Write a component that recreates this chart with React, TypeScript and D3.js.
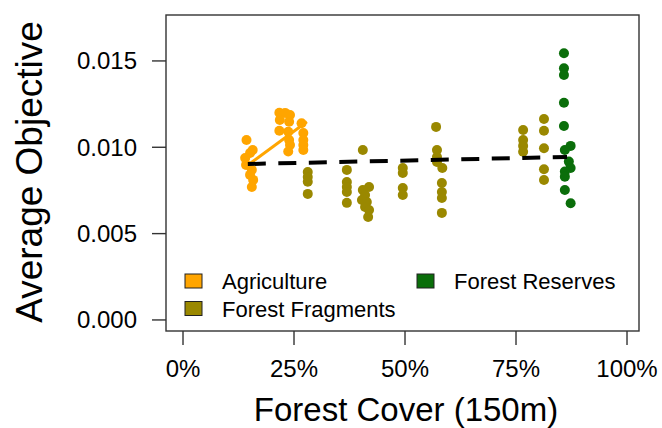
import React from 'react';
import * as d3 from 'd3';

// forest cover (fraction) and average objective
const agriX = [0.143, 0.157, 0.151, 0.140, 0.142, 0.155, 0.151, 0.158, 0.155,
  0.217, 0.230, 0.241, 0.218, 0.239, 0.217, 0.237, 0.239, 0.241, 0.237,
  0.267, 0.271, 0.271, 0.271, 0.271];
const agriY = [0.01042, 0.00984, 0.00967, 0.00938, 0.00898, 0.00869, 0.0084, 0.00811, 0.0077,
  0.0120, 0.01199, 0.01187, 0.01158, 0.01148, 0.01096, 0.0109, 0.01042, 0.01013, 0.00975,
  0.01139, 0.01083, 0.01042, 0.01013, 0.00984];

const fragX = [0.281, 0.281, 0.281, 0.281,
  0.369, 0.369, 0.369, 0.369, 0.369,
  0.405, 0.419, 0.405, 0.410, 0.403, 0.414, 0.410, 0.419, 0.417,
  0.495, 0.495, 0.495, 0.495,
  0.570, 0.572, 0.572, 0.572, 0.584, 0.583, 0.583, 0.583, 0.583,
  0.766, 0.766, 0.766, 0.766,
  0.813, 0.813, 0.813, 0.813, 0.813];
const fragY = [0.00857, 0.00828, 0.0080, 0.0073,
  0.00869, 0.00799, 0.0077, 0.00741, 0.00678,
  0.00984, 0.0077, 0.00753, 0.00724, 0.00695, 0.00683, 0.00654, 0.00637, 0.00596,
  0.0088, 0.00851, 0.00764, 0.00724,
  0.01118, 0.00984, 0.00944, 0.00915, 0.0088, 0.00793, 0.00741, 0.00706, 0.0062,
  0.011, 0.01042, 0.01008, 0.00974,
  0.01164, 0.01096, 0.00994, 0.00873, 0.0081];

const resX = [0.858, 0.858, 0.858, 0.858, 0.858, 0.873, 0.860, 0.869, 0.873, 0.860, 0.860, 0.860, 0.873];
const resY = [0.01544, 0.01457, 0.01419, 0.01258, 0.01123, 0.01008, 0.00984, 0.00917, 0.0088, 0.00859, 0.0083, 0.00753, 0.00676];

// fitted lines: overall (dashed) and agriculture only
const allFitX = [0.146, 0.865];
const allFitY = [0.00903, 0.00944];
const agriFitX = [0.137, 0.279];
const agriFitY = [0.0088, 0.01148];

const yTicks = [0, 0.005, 0.01, 0.015];
const xTicks = [0, 0.25, 0.5, 0.75, 1];

const groups = ['Agriculture', 'Forest Fragments', 'Forest Reserves'];
const colors = ['#FFA500', '#9A8800', '#0A6E0A'];

const font = '"Liberation Sans", Arial, sans-serif';
const W = 662;
const H = 428;
const box = { left: 166, right: 639, top: 15, bottom: 331 };

const App: React.FC = () => {
  const x = d3.scaleLinear().domain([-0.0383, 1.027]).range([box.left, box.right]);
  const y = d3.scaleLinear().domain([-0.00064, 0.01766]).range([box.bottom, box.top]);

  const line = d3.line<[number, number]>().x(d => x(d[0])).y(d => y(d[1]));
  const series = [
    { xs: agriX, ys: agriY, c: colors[0] },
    { xs: fragX, ys: fragY, c: colors[1] },
    { xs: resX, ys: resY, c: colors[2] },
  ];

  const legendPos = [
    { lx: 185, ly: 281 },
    { lx: 185, ly: 308.5 },
    { lx: 417, ly: 281 },
  ];

  return (
    <svg width={W} height={H} style={{ position: 'absolute', left: 0, top: 0, background: '#fff' }} fontFamily={font}>
      {series.map((s, i) => (
        <g key={i}>
          {s.xs.map((v, j) => (
            <circle key={j} cx={x(v)} cy={y(s.ys[j])} r={5} fill={s.c} />
          ))}
        </g>
      ))}
      <path d={line(agriFitX.map((v, i) => [v, agriFitY[i]]) as [number, number][]) || ''}
        stroke={colors[0]} strokeWidth={3} fill="none" />
      <path d={line(allFitX.map((v, i) => [v, allFitY[i]]) as [number, number][]) || ''}
        stroke="#000" strokeWidth={4} strokeDasharray="18 12.5" fill="none" />

      <rect x={box.left} y={box.top} width={box.right - box.left} height={box.bottom - box.top}
        fill="none" stroke="#333" strokeWidth={1.4} />

      {yTicks.map(t => (
        <g key={t}>
          <line x1={box.left - 14} x2={box.left} y1={y(t)} y2={y(t)} stroke="#333" strokeWidth={1.4} />
          <text x={137} y={y(t) + 8.5} textAnchor="end" fontSize={24}>{d3.format('.3f')(t)}</text>
        </g>
      ))}
      {xTicks.map(t => (
        <g key={t}>
          <line x1={x(t)} x2={x(t)} y1={box.bottom} y2={box.bottom + 14} stroke="#333" strokeWidth={1.4} />
          <text x={x(t)} y={377} textAnchor="middle" fontSize={24}>{d3.format('.0%')(t)}</text>
        </g>
      ))}

      <text x={406} y={421} textAnchor="middle" fontSize={33}>Forest Cover (150m)</text>
      <text transform="translate(42,172) rotate(-90)" textAnchor="middle" fontSize={37}>Average Objective</text>

      {groups.map((g, i) => (
        <g key={g}>
          <rect x={legendPos[i].lx} y={legendPos[i].ly - 7} width={17} height={14}
            fill={colors[i]} stroke="#222" strokeWidth={1} />
          <text x={legendPos[i].lx + 37} y={legendPos[i].ly + 8} fontSize={22}>{g}</text>
        </g>
      ))}
    </svg>
  );
};

export default App;
